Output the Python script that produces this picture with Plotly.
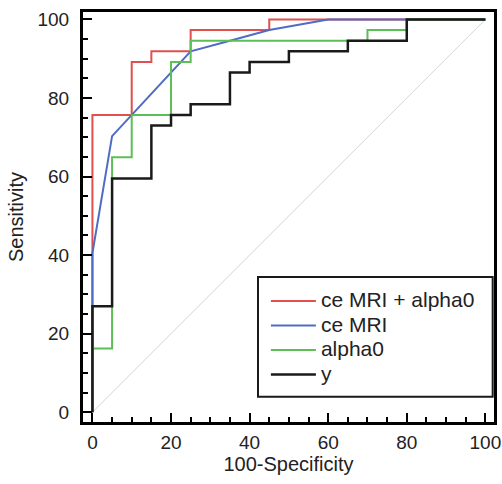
import plotly.graph_objects as go

# ROC data (100-Specificity, Sensitivity)
red_name = "ce MRI + alpha0"
red_x = [0, 0, 10, 10, 15, 15, 25, 25, 45, 45, 100]
red_y = [0, 75.7, 75.7, 89.2, 89.2, 91.9, 91.9, 97.3, 97.3, 100, 100]

blue_name = "ce MRI"
blue_x = [0, 0, 5, 10, 25, 35, 45, 60, 100]
blue_y = [0, 40.5, 70.3, 75.7, 91.9, 94.6, 97.3, 100, 100]

green_name = "alpha0"
green_x = [0, 0, 5, 5, 10, 10, 20, 20, 25, 25, 70, 70, 80, 80, 100]
green_y = [0, 16.2, 16.2, 64.9, 64.9, 75.7, 75.7, 89.2, 89.2, 94.6, 94.6, 97.3, 97.3, 100, 100]

black_name = "y"
black_x = [0, 0, 5, 5, 15, 15, 20, 20, 25, 25, 35, 35, 40, 40, 50, 50, 65, 65, 80, 80, 100]
black_y = [0, 27.0, 27.0, 59.5, 59.5, 73.0, 73.0, 75.7, 75.7, 78.4, 78.4, 86.5, 86.5, 89.2, 89.2,
           91.9, 91.9, 94.6, 94.6, 100, 100]

diag_x = [0, 100]
diag_y = [0, 100]

tick_vals = [0, 20, 40, 60, 80, 100]
tick_text = ["0", "20", "40", "60", "80", "100"]

FONT = "Liberation Sans, Arial, Helvetica, sans-serif"


def legend_label(name):
    return '<span style="font-size:21px">' + name + "</span>"


fig = go.Figure()
fig.add_trace(go.Scatter(x=diag_x, y=diag_y, mode="lines", showlegend=False,
                         line=dict(color="#d4d4d4", width=1), hoverinfo="skip"))
fig.add_trace(go.Scatter(x=red_x, y=red_y, mode="lines", name=legend_label(red_name),
                         line=dict(color="#e0504f", width=2)))
fig.add_trace(go.Scatter(x=blue_x, y=blue_y, mode="lines", name=legend_label(blue_name),
                         line=dict(color="#4f6cc4", width=2)))
fig.add_trace(go.Scatter(x=green_x, y=green_y, mode="lines", name=legend_label(green_name),
                         line=dict(color="#5cbf55", width=2)))
fig.add_trace(go.Scatter(x=black_x, y=black_y, mode="lines", name=legend_label(black_name),
                         line=dict(color="#1a1a1a", width=2.5)))

axis_common = dict(
    showgrid=False, zeroline=False, automargin=False,
    showline=True, linewidth=3, linecolor="black", mirror=True,
    ticks="inside", ticklen=9, tickwidth=2, tickcolor="black",
    tickvals=tick_vals, ticktext=tick_text, ticklabeloverflow="allow",
    minor=dict(dtick=5, ticks="inside", ticklen=5, tickwidth=1.5, tickcolor="black"),
    tickfont=dict(size=19, color="#222222", family=FONT),
    title_font=dict(size=20, color="#222222", family=FONT),
)

fig.update_xaxes(range=[-2.4, 102.2], title_text="100-Specificity", title_standoff=2,
                 ticklabelstandoff=1, **axis_common)
fig.update_yaxes(range=[-2.5, 101.9], title_text="Sensitivity", title_standoff=9,
                 ticklabelstandoff=7, **axis_common)

fig.update_layout(
    width=502, height=484,
    margin=dict(l=83, r=8, t=12, b=62, autoexpand=False),
    paper_bgcolor="white", plot_bgcolor="white",
    font=dict(family=FONT, size=20, color="#222222"),
    legend=dict(x=0.445, y=0.337, xanchor="left", yanchor="top",
                borderwidth=0, bgcolor="rgba(0,0,0,0)", itemwidth=45,
                font=dict(size=16.5, family=FONT, color="#222222"),
                tracegroupgap=0),
    shapes=[dict(type="rect", xref="paper", yref="paper",
                 x0=0.4258, x1=0.9968, y0=0.0617, y1=0.3537,
                 line=dict(color="#1a1a1a", width=2), fillcolor="rgba(0,0,0,0)", layer="above")],
)

fig.write_html("out.html",
               config={"displayModeBar": False},
               post_script="document.body.style.margin='0px';document.body.style.overflow='hidden';")
